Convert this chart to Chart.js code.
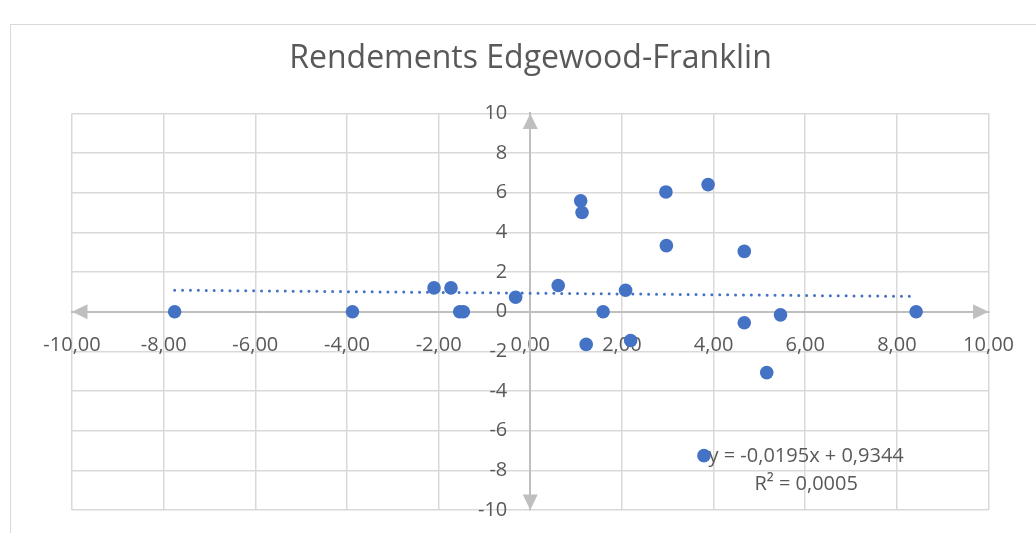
<!DOCTYPE html>
<html lang="fr">
<head>
<meta charset="utf-8">
<title>Rendements Edgewood-Franklin</title>
<script src="https://cdn.jsdelivr.net/npm/chart.js@4.4.1/dist/chart.umd.min.js"></script>
<style>
  html, body { margin: 0; padding: 0; background: #ffffff; }
  #wrap { position: relative; width: 1036px; height: 533px; }
  canvas { display: block; }
</style>
</head>
<body>
<div id="wrap"><canvas id="chart" width="1036" height="533"></canvas></div>
<script>
// Monthly returns: Edgewood (x, %) against Franklin (y, %)
const edgewoodReturns = [-7.76, -3.88, -2.10, -1.73, -1.54, -1.46, -0.32, 0.61, 1.10, 1.13, 1.59, 2.08,
                         2.96, 2.97, 3.88, 4.67, 4.67, 5.46, 8.42, 1.22, 2.19, 5.16, 3.79];
const franklinReturns = [0, 0, 1.20, 1.20, 0, 0, 0.73, 1.32, 5.59, 5.00, 0, 1.08,
                         6.04, 3.33, 6.41, 3.04, -0.56, -0.16, 0, -1.65, -1.45, -3.07, -7.26];

// Linear trend (least squares) as reported on the chart
const trendSlope = -0.0195;
const trendIntercept = 0.9344;
const trendR2 = 0.0005;

// Axis ranges and tick steps
const xRange = [-10, 10];
const yRange = [-10, 10];
const tickStep = 2;

const chartTitle = 'Rendements Edgewood-Franklin';
const FONT = "'Open Sans', 'Noto Sans', sans-serif";
const TEXT = '#595959';
const GRID = '#d9d9d9';
const AXIS = '#bfbfbf';
const BLUE = '#4472C4';

const frNum = (v, d) => v.toFixed(d).replace('.', ',');

const scatterPoints = edgewoodReturns.map((x, i) => ({ x, y: franklinReturns[i] }));
const xMin = Math.min(...edgewoodReturns);
const xMax = Math.max(...edgewoodReturns);
const trendPoints = [xMin, xMax].map(x => ({ x, y: trendSlope * x + trendIntercept }));

// Outer frame of the chart object
const framePlugin = {
  id: 'frame',
  beforeDraw(chart) {
    const ctx = chart.ctx;
    ctx.save();
    ctx.fillStyle = '#ffffff';
    ctx.fillRect(0, 0, chart.width, chart.height);
    ctx.strokeStyle = GRID;
    ctx.lineWidth = 1;
    ctx.strokeRect(10.5, 24.5, chart.width + 20, chart.height + 20);
    ctx.restore();
  }
};

// Arrow heads at both ends of each axis, plus the trend equation
const axisArrowsPlugin = {
  id: 'axisArrows',
  beforeDatasetsDraw(chart) {
    const { ctx, scales: { x, y } } = chart;
    const x0 = x.getPixelForValue(0), y0 = y.getPixelForValue(0);
    const L = 15.5, H = 7.5;
    ctx.save();
    ctx.fillStyle = AXIS;
    const tri = (pts) => {
      ctx.beginPath();
      ctx.moveTo(pts[0][0], pts[0][1]);
      ctx.lineTo(pts[1][0], pts[1][1]);
      ctx.lineTo(pts[2][0], pts[2][1]);
      ctx.closePath();
      ctx.fill();
    };
    const xl = x.getPixelForValue(xRange[0]), xr = x.getPixelForValue(xRange[1]);
    const yt = y.getPixelForValue(yRange[1]), yb = y.getPixelForValue(yRange[0]);
    tri([[xl, y0], [xl + L, y0 - H], [xl + L, y0 + H]]);
    tri([[xr, y0], [xr - L, y0 - H], [xr - L, y0 + H]]);
    tri([[x0, yt], [x0 - H, yt + L], [x0 + H, yt + L]]);
    tri([[x0, yb], [x0 - H, yb - L], [x0 + H, yb - L]]);

    // Trend equation and R², anchored in data space
    ctx.fillStyle = TEXT;
    ctx.font = "20px " + FONT;
    ctx.textAlign = 'center';
    ctx.textBaseline = 'alphabetic';
    const cx = x.getPixelForValue(6.02);
    const eq = 'y = ' + frNum(trendSlope, 4) + 'x + ' + frNum(trendIntercept, 4);
    ctx.fillText(eq, cx, y.getPixelForValue(-7.6));
    ctx.fillText('R² = ' + frNum(trendR2, 4), cx, y.getPixelForValue(-8.98));
    ctx.restore();
  }
};

new Chart(document.getElementById('chart'), {
  type: 'scatter',
  data: {
    datasets: [
      {
        label: 'Rendements',
        data: scatterPoints,
        backgroundColor: BLUE,
        borderColor: BLUE,
        borderWidth: 0,
        pointRadius: 6.8,
        pointHoverRadius: 6.8,
        order: 1
      },
      {
        label: 'Linéaire (Rendements)',
        type: 'line',
        data: trendPoints,
        borderColor: BLUE,
        borderWidth: 3,
        borderCapStyle: 'round',
        borderDash: [0, 7.9],
        pointRadius: 0,
        fill: false,
        tension: 0,
        order: 2
      }
    ]
  },
  options: {
    responsive: false,
    animation: false,
    layout: {
      autoPadding: false,
      padding: { left: 72, right: 47, top: 0, bottom: 23 }
    },
    plugins: {
      legend: { display: false },
      tooltip: { enabled: false },
      title: {
        display: true,
        text: chartTitle,
        color: TEXT,
        font: { family: FONT, size: 32, weight: 'normal', lineHeight: 1.2 },
        padding: { top: 40, bottom: 35 }
      }
    },
    scales: {
      x: {
        type: 'linear',
        position: 'center',
        min: xRange[0],
        max: xRange[1],
        grid: {
          color: (c) => (c.tick && c.tick.value === 0 ? 'rgba(0,0,0,0)' : GRID),
          lineWidth: 1.5,
          drawTicks: false
        },
        border: { display: true, color: AXIS, width: 2 },
        ticks: {
          stepSize: tickStep,
          padding: 22,
          color: TEXT,
          font: { family: FONT, size: 20 },
          maxRotation: 0,
          autoSkip: false,
          callback: (v) => frNum(v, 2)
        }
      },
      y: {
        type: 'linear',
        position: 'center',
        min: yRange[0],
        max: yRange[1],
        // the axis sits inside the plot, so its labels need no outer room
        afterFit: (scale) => { scale.paddingTop = 0; scale.paddingBottom = 0; },
        grid: {
          color: (c) => (c.tick && c.tick.value === 0 ? 'rgba(0,0,0,0)' : GRID),
          lineWidth: 1.5,
          drawTicks: false
        },
        border: { display: true, color: AXIS, width: 2 },
        ticks: {
          stepSize: tickStep,
          padding: 23,
          color: TEXT,
          font: { family: FONT, size: 20 },
          autoSkip: false,
          callback: (v) => String(v)
        }
      }
    }
  },
  plugins: [framePlugin, axisArrowsPlugin]
});
</script>
</body>
</html>
